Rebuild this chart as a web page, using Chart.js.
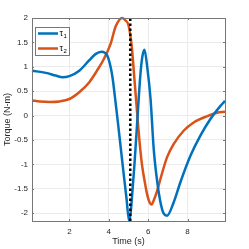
<!DOCTYPE html>
<html>
<head>
<meta charset="utf-8">
<script src="https://cdn.jsdelivr.net/npm/chart.js@4"></script>
<style>
  html, body { margin: 0; padding: 0; background: #fff; }
  #wrap { width: 249px; height: 249px; }
</style>
</head>
<body>
<div id="wrap"><canvas id="graph" width="249" height="249"></canvas></div>
<script>
// values
const tau1Time = [0.1, 0.8, 1.3, 1.65, 2.0, 2.5, 3.0, 3.32, 3.63, 3.92, 4.1, 4.2, 4.3, 4.45, 4.7, 4.9, 5.03, 5.26, 5.4, 5.6, 5.7, 5.81, 5.95, 6.12, 6.28, 6.46, 6.62, 6.79, 6.96, 7.3, 7.64, 8.15, 8.65, 9.16, 9.67, 9.9];
const tau1 = [0.92, 0.875, 0.82, 0.785, 0.81, 0.92, 1.13, 1.26, 1.31, 1.23, 0.98, 0.75, 0.42, -0.1, -1.0, -1.7, -2.16, -1.23, -0.4, 0.82, 1.2, 1.35, 1.0, 0.34, -0.68, -1.36, -1.77, -2.01, -2.05, -1.77, -1.36, -0.82, -0.41, -0.07, 0.2, 0.3];

const tau2Time = [0.1, 0.5, 1.0, 1.5, 2.0, 2.5, 3.0, 3.4, 3.75, 4.09, 4.34, 4.55, 4.68, 4.85, 5.0, 5.17, 5.3, 5.4, 5.5, 5.6, 5.7, 5.8, 5.95, 6.05, 6.17, 6.3, 6.45, 6.62, 6.96, 7.3, 7.8, 8.31, 9.0, 9.5, 9.9];
const tau2 = [0.31, 0.29, 0.28, 0.29, 0.34, 0.48, 0.68, 0.92, 1.16, 1.47, 1.82, 1.97, 2.0, 1.95, 1.85, 1.4, 0.75, 0.25, -0.25, -0.7, -1.05, -1.3, -1.62, -1.76, -1.82, -1.72, -1.55, -1.3, -0.85, -0.58, -0.31, -0.14, -0.01, 0.06, 0.08];

const markTime = 5.09;
const xTicks = [2, 4, 6, 8];
const yTicks = [-2, -1.5, -1, -0.5, 0, 0.5, 1, 1.5, 2];
const xMin = 0.1, xMax = 9.9, yMin = -2.16, yMax = 2.0;

const blue = '#0072BD';
const orange = '#D95319';
const axisGray = '#777';
const font = "'Liberation Sans', Arial, sans-serif";

function toPoints(xs, ys) {
    return xs.map((x, i) => ({x: x, y: ys[i]}));
}

// box, inward ticks, legend and axis titles drawn on top
const extras = {
    id: 'extras',
    afterDraw(chart) {
        const ctx = chart.ctx;
        const a = chart.chartArea;
        ctx.save();
        ctx.strokeStyle = axisGray;
        ctx.lineWidth = 1;
        const xs = chart.scales.x, ys = chart.scales.y;
        xTicks.forEach(v => {
            const px = Math.round(xs.getPixelForValue(v)) + 0.5;
            ctx.beginPath();
            ctx.moveTo(px, a.bottom); ctx.lineTo(px, a.bottom - 2);
            ctx.moveTo(px, a.top); ctx.lineTo(px, a.top + 2);
            ctx.stroke();
        });
        yTicks.forEach(v => {
            const py = Math.round(ys.getPixelForValue(v)) + 0.5;
            ctx.beginPath();
            ctx.moveTo(a.left, py); ctx.lineTo(a.left + 2, py);
            ctx.moveTo(a.right, py); ctx.lineTo(a.right - 2, py);
            ctx.stroke();
        });
        ctx.strokeRect(Math.round(a.left) + 0.5, Math.round(a.top) + 0.5,
                       Math.round(a.right - a.left), Math.round(a.bottom - a.top));

        // legend
        ctx.fillStyle = '#fff';
        ctx.fillRect(35, 27, 34, 28);
        ctx.strokeStyle = axisGray;
        ctx.strokeRect(35.5, 27.5, 34, 28);
        [[blue, 33.5, '1'], [orange, 48.5, '2']].forEach(([c, y, sub]) => {
            ctx.strokeStyle = c;
            ctx.lineWidth = 2.5;
            ctx.beginPath();
            ctx.moveTo(38, y); ctx.lineTo(58, y);
            ctx.stroke();
            ctx.fillStyle = '#000';
            ctx.textBaseline = 'middle';
            ctx.textAlign = 'left';
            ctx.font = "9px " + font;
            ctx.fillText('τ', 59.5, y);
            ctx.font = "6px " + font;
            ctx.fillText(sub, 63.5, y + 3);
        });

        // axis titles
        ctx.fillStyle = '#262626';
        ctx.font = "9px " + font;
        ctx.textAlign = 'center';
        ctx.textBaseline = 'middle';
        ctx.fillText('Time (s)', (a.left + a.right) / 2, 242);
        ctx.translate(8, (a.top + a.bottom) / 2);
        ctx.rotate(-Math.PI / 2);
        ctx.fillText('Torque (N-m)', 0, 0);
        ctx.restore();
    }
};

new Chart(document.getElementById('graph').getContext('2d'), {
    type: 'line',
    data: {
        datasets: [{
            label: 'τ1',
            data: toPoints(tau1Time, tau1),
            borderColor: blue,
            borderWidth: 2.5,
            pointRadius: 0,
            cubicInterpolationMode: 'monotone',
            fill: false,
            order: 2,
        }, {
            label: 'τ2',
            data: toPoints(tau2Time, tau2),
            borderColor: orange,
            borderWidth: 2.5,
            pointRadius: 0,
            cubicInterpolationMode: 'monotone',
            fill: false,
            order: 3,
        }, {
            label: 'mark',
            data: [{x: markTime, y: yMin}, {x: markTime, y: yMax}],
            borderColor: '#000',
            borderWidth: 2.5,
            borderDash: [2.5, 2.5],
            pointRadius: 0,
            fill: false,
            order: 1,
        }],
    },
    options: {
        responsive: false,
        animation: false,
        clip: false,
        layout: { padding: { left: 0, right: 24, top: 18, bottom: 0 } },
        plugins: { legend: { display: false }, tooltip: { enabled: false } },
        scales: {
            x: {
                type: 'linear',
                min: xMin,
                max: xMax,
                afterBuildTicks: s => { s.ticks = xTicks.map(v => ({value: v})); },
                afterFit: s => { s.height = 28; },
                grid: { color: '#ebebeb', lineWidth: 1, tickLength: 0, drawTicks: false },
                border: { display: false },
                ticks: { color: '#262626', font: { family: font, size: 8 }, padding: 6, maxRotation: 0 },
            },
            y: {
                type: 'linear',
                min: yMin,
                max: yMax,
                afterBuildTicks: s => { s.ticks = yTicks.map(v => ({value: v})); },
                afterFit: s => { s.width = 32; },
                grid: { color: '#ebebeb', lineWidth: 1, tickLength: 0, drawTicks: false },
                border: { display: false },
                ticks: { color: '#262626', font: { family: font, size: 8 }, padding: 4,
                         callback: v => String(v) },
            },
        },
    },
    plugins: [extras],
});
</script>
</body>
</html>
